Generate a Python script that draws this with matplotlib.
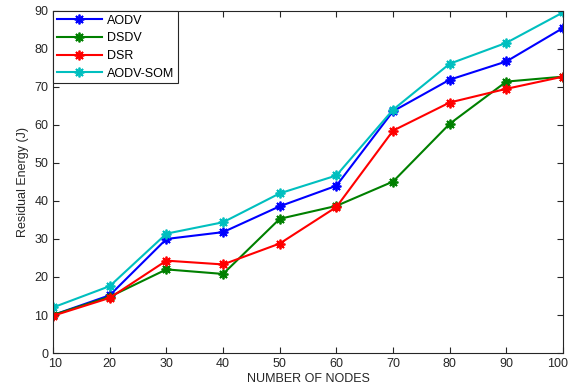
import matplotlib.pyplot as plt
from matplotlib.transforms import ScaledTranslation

plt.rcParams['font.family'] = ['Liberation Sans', 'DejaVu Sans']

nodes = [10, 20, 30, 40, 50, 60, 70, 80, 90, 100]
aodv = [10.0, 15.2, 30.0, 31.8, 38.6, 44.0, 63.6, 71.9, 76.7, 85.5]
dsdv = [10.0, 14.8, 22.0, 20.8, 35.3, 38.7, 45.1, 60.3, 71.4, 72.7]
dsr = [9.8, 14.5, 24.3, 23.3, 28.8, 38.4, 58.5, 65.9, 69.5, 72.7]
aodv_som = [12.0, 17.6, 31.4, 34.4, 42.0, 46.7, 64.0, 76.1, 81.6, 89.6]

series = [
    ("AODV", aodv, "#0000ff"),
    ("DSDV", dsdv, "#008000"),
    ("DSR", dsr, "#ff0000"),
    ("AODV-SOM", aodv_som, "#00bfbf"),
]

fig = plt.figure(figsize=(5.71, 3.89), dpi=100)
ax = fig.add_axes([0.093, 0.0925, 0.893, 0.8795])

for name, vals, col in series:
    ax.plot(nodes, vals, color=col, lw=1.5, marker=(8, 2, 0), markersize=7,
            markeredgewidth=1.3, label=name)

ax.set_xlim(10, 100)
ax.set_ylim(0, 90)
ax.set_xticks(nodes)
ax.set_yticks(range(0, 91, 10))
ax.tick_params(direction="in", top=True, right=True, labelsize=9,
               colors="#262626", length=4)
for s in ax.spines.values():
    s.set_color("#262626")
    s.set_linewidth(0.8)
ax.set_xlabel("NUMBER OF NODES", fontsize=9, color="#262626", labelpad=2)
ax.set_ylabel("Residual Energy (J)", fontsize=9, color="#262626", labelpad=4)

# keep the "100" label inside the figure like the reference
last = ax.get_xticklabels()[-1]
last.set_transform(last.get_transform() + ScaledTranslation(-5 / 100, 0, fig.dpi_scale_trans))
first = ax.get_xticklabels()[0]
first.set_transform(first.get_transform() + ScaledTranslation(2 / 100, 0, fig.dpi_scale_trans))

leg = ax.legend(loc="upper left", fontsize=9, handlelength=3.6,
                borderaxespad=0, fancybox=False, framealpha=1,
                edgecolor="#262626", borderpad=0.3, labelspacing=0.45,
                handletextpad=0.4)
leg.get_frame().set_linewidth(0.8)

fig.savefig("out.png", dpi=100)
